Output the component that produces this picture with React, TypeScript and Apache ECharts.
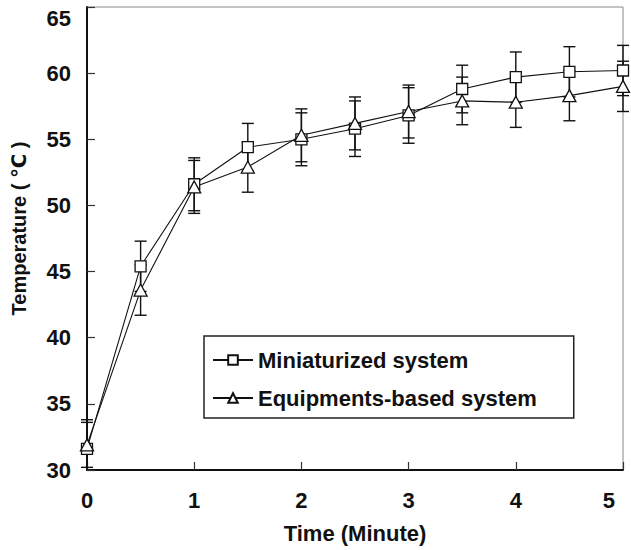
import React, { useEffect, useRef } from "react";
import * as echarts from "echarts";

const times = [0, 0.5, 1, 1.5, 2, 2.5, 3, 3.5, 4, 4.5, 5];
const miniValues = [31.6, 45.4, 51.6, 54.4, 55.0, 55.8, 56.8, 58.8, 59.7, 60.1, 60.2];
const miniErrors = [2.2, 1.9, 2.0, 1.8, 2.0, 2.1, 2.1, 1.8, 1.9, 1.9, 1.9];
const equipValues = [31.9, 43.6, 51.4, 52.9, 55.3, 56.2, 57.1, 57.9, 57.8, 58.3, 59.0];
const equipErrors = [1.7, 1.9, 2.0, 1.9, 2.0, 2.0, 2.0, 1.8, 1.9, 1.9, 1.9];
const yTicks = { min: 30, max: 65, interval: 5 };
const xTicks = { min: 0, max: 5, interval: 1 };

const FONT = "'Liberation Sans', Arial, 'DejaVu Sans', sans-serif";
const labelText = { fontFamily: FONT, fontWeight: "bold", fontSize: 22, color: "#111" };

function errorBarSeries(values: number[], errors: number[]) {
  return {
    type: "custom",
    silent: true,
    z: 3,
    data: times.map((t, i) => [t, values[i], errors[i]]),
    renderItem: (params: any, api: any) => {
      const x = api.value(0);
      const y = api.value(1);
      const e = api.value(2);
      const top = api.coord([x, y + e]);
      let bot = api.coord([x, y - e]);
      const base = api.coord([x, yTicks.min]);
      const clipped = bot[1] > base[1];
      if (clipped) bot = [bot[0], base[1]];
      const hw = 6;
      const style = { stroke: "#111", lineWidth: 1.4 };
      const children: any[] = [
        { type: "line", shape: { x1: top[0], y1: top[1], x2: bot[0], y2: bot[1] }, style },
        { type: "line", shape: { x1: top[0] - hw, y1: top[1], x2: top[0] + hw, y2: top[1] }, style },
      ];
      if (!clipped) {
        children.push({ type: "line", shape: { x1: bot[0] - hw, y1: bot[1], x2: bot[0] + hw, y2: bot[1] }, style });
      }
      return { type: "group", children };
    },
  };
}

export default function App() {
  const ref = useRef<HTMLDivElement>(null);
  useEffect(() => {
    if (!ref.current) return;
    const chart = echarts.init(ref.current, undefined, { renderer: "svg" });
    chart.setOption({
      animation: false,
      backgroundColor: "#fff",
      grid: {
        left: 87,
        right: 8,
        top: 7,
        bottom: 80,
        outerBoundsMode: "none",
        containLabel: false,
        show: true,
        borderColor: "#888",
        borderWidth: 1,
        backgroundColor: "transparent",
      },
      legend: {
        orient: "vertical",
        left: 204,
        top: 336,
        padding: [12, 37, 8, 8],
        itemGap: 14,
        itemWidth: 40,
        itemHeight: 12,
        borderColor: "#222",
        borderWidth: 1.5,
        backgroundColor: "#fff",
        textStyle: { ...labelText, lineHeight: 24 },
        data: ["Miniaturized system", "Equipments-based system"],
      },
      xAxis: {
        type: "value",
        min: xTicks.min,
        max: xTicks.max,
        interval: xTicks.interval,
        name: "Time (Minute)",
        nameLocation: "middle",
        nameGap: 52,
        nameTextStyle: { ...labelText },
        axisLine: { show: true, onZero: false, lineStyle: { color: "#111", width: 2 } },
        axisTick: { show: true, inside: true, length: 8, lineStyle: { color: "#333", width: 1.2 } },
        axisLabel: {
          ...labelText,
          margin: 19,
          alignMaxLabel: "right",
          formatter: (v: number) => (v === xTicks.max ? "{p|" + v + "}" : String(v)),
          rich: { p: { ...labelText, padding: [0, 8, 0, 0] } },
        },
        splitLine: { show: false },
      },
      yAxis: {
        type: "value",
        min: yTicks.min,
        max: yTicks.max,
        interval: yTicks.interval,
        name: "Temperature ( \u2103 )",
        nameLocation: "middle",
        nameGap: 58,
        nameTextStyle: { ...labelText, fontSize: 20, padding: [0, 0, 0, 20] },
        axisLine: { show: true, onZero: false, lineStyle: { color: "#111", width: 2 } },
        axisTick: { show: true, inside: true, length: 8, lineStyle: { color: "#333", width: 1.2 } },
        axisLabel: { ...labelText, margin: 16, verticalAlignMaxLabel: "top" },
        splitLine: { show: false },
      },
      series: [
        {
          name: "Miniaturized system",
          type: "line",
          data: times.map((t, i) => [t, miniValues[i]]),
          symbol: "rect",
          symbolSize: 11,
          lineStyle: { color: "#111", width: 1.1 },
          itemStyle: { color: "#fff", borderColor: "#111", borderWidth: 1.3 },
          z: 4,
        },
        {
          name: "Equipments-based system",
          type: "line",
          data: times.map((t, i) => [t, equipValues[i]]),
          symbol: "triangle",
          symbolSize: [13, 12],
          lineStyle: { color: "#111", width: 1.1 },
          itemStyle: { color: "#fff", borderColor: "#111", borderWidth: 1.3 },
          z: 4,
        },
        errorBarSeries(miniValues, miniErrors),
        errorBarSeries(equipValues, equipErrors),
      ],
    });
    return () => chart.dispose();
  }, []);
  return <div ref={ref} style={{ width: 631, height: 550, position: "absolute", left: 0, top: 0 }} />;
}
